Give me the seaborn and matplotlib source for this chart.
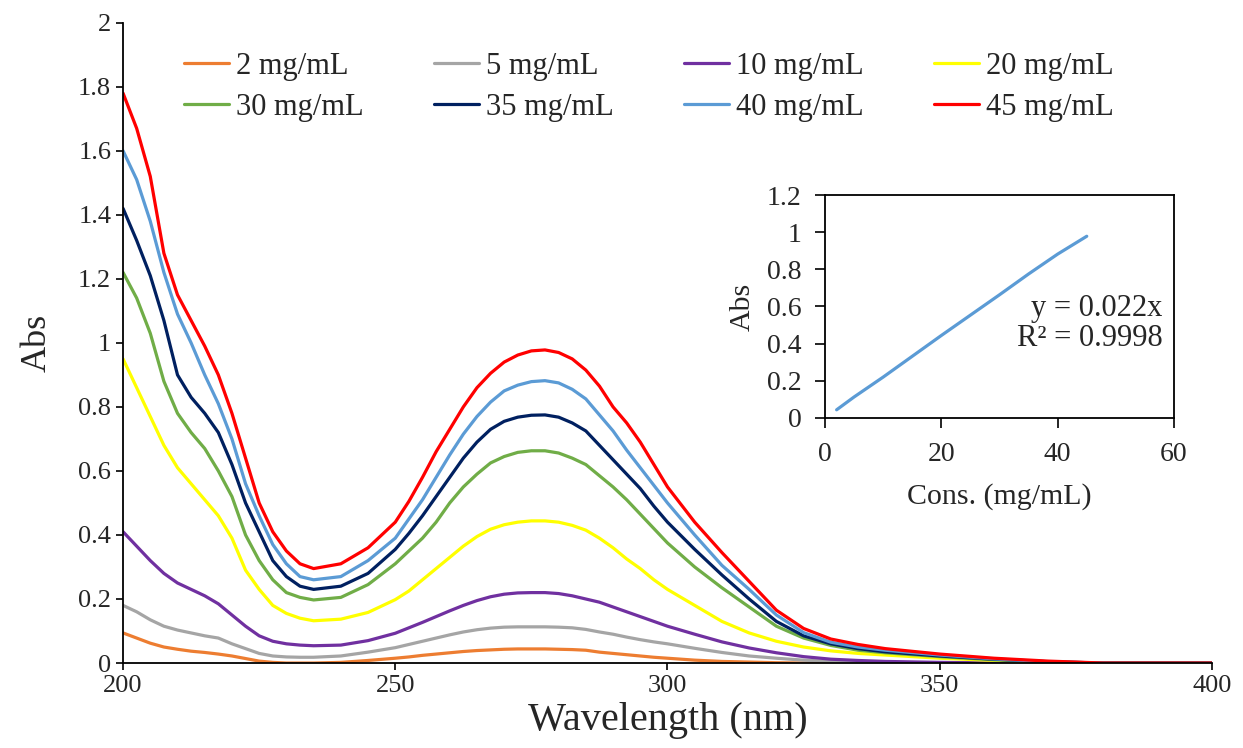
import numpy as np
import pandas as pd
import seaborn as sns
import matplotlib.pyplot as plt

# UV-vis spectra at different concentrations
wavelength = [200, 202.5, 205, 207.5, 210, 212.5, 215, 217.5, 220, 222.5, 225, 227.5,
              230, 232.5, 235, 240, 245,
              250, 252.5, 255, 257.5, 260, 262.5, 265, 267.5, 270, 272.5, 275, 277.5,
              280, 282.5, 285, 287.5, 290, 292.5, 295, 297.5, 300,
              305, 310, 315, 320, 325, 330, 335, 340, 350, 360, 370, 380, 390, 400]

abs_2 = [0.094, 0.078, 0.062, 0.050, 0.043, 0.037, 0.033, 0.028, 0.022, 0.014, 0.006, 0.002,
         0.0, 0.0, 0.0, 0.002, 0.008,
         0.015, 0.019, 0.024, 0.028, 0.032, 0.036, 0.039, 0.041, 0.043, 0.044, 0.044, 0.044,
         0.043, 0.042, 0.040, 0.034, 0.030, 0.026, 0.022, 0.018, 0.015,
         0.009, 0.005, 0.003, 0.001, 0.0, 0.0, 0.0, 0.0, 0.0, 0.0, 0.0, 0.0, 0.0, 0.0]
abs_5 = [0.180, 0.160, 0.135, 0.115, 0.103, 0.094, 0.085, 0.078, 0.060, 0.045, 0.030, 0.022,
         0.019, 0.018, 0.018, 0.022, 0.034,
         0.048, 0.058, 0.068, 0.078, 0.088, 0.097, 0.104, 0.109, 0.112, 0.113, 0.113, 0.113,
         0.112, 0.110, 0.105, 0.097, 0.090, 0.081, 0.073, 0.066, 0.060,
         0.046, 0.033, 0.022, 0.015, 0.009, 0.005, 0.003, 0.001, 0.0, 0.0, 0.0, 0.0, 0.0, 0.0]
abs_10 = [0.410, 0.365, 0.320, 0.280, 0.250, 0.230, 0.210, 0.185, 0.150, 0.115, 0.085, 0.068,
          0.060, 0.056, 0.054, 0.056, 0.070,
          0.093, 0.110, 0.127, 0.145, 0.163, 0.180, 0.195, 0.207, 0.215, 0.219, 0.220, 0.220,
          0.217, 0.210, 0.200, 0.190, 0.175, 0.160, 0.145, 0.130, 0.115,
          0.090, 0.066, 0.047, 0.032, 0.020, 0.012, 0.008, 0.005, 0.002, 0.0, 0.0, 0.0, 0.0, 0.0]
abs_20 = [0.950, 0.860, 0.770, 0.680, 0.610, 0.560, 0.510, 0.460, 0.390, 0.290, 0.230, 0.180,
          0.155, 0.140, 0.132, 0.137, 0.158,
          0.198, 0.225, 0.260, 0.295, 0.330, 0.365, 0.395, 0.418, 0.432, 0.440, 0.444, 0.444,
          0.440, 0.430, 0.415, 0.390, 0.360, 0.325, 0.295, 0.260, 0.230,
          0.180, 0.130, 0.094, 0.068, 0.050, 0.038, 0.030, 0.025, 0.015, 0.008, 0.002, 0.0, 0.0, 0.0]
abs_30 = [1.220, 1.140, 1.030, 0.880, 0.780, 0.720, 0.670, 0.600, 0.520, 0.400, 0.320, 0.260,
          0.220, 0.205, 0.197, 0.205, 0.245,
          0.310, 0.350, 0.390, 0.440, 0.500, 0.550, 0.590, 0.625, 0.645, 0.658, 0.663, 0.663,
          0.656, 0.640, 0.620, 0.585, 0.550, 0.510, 0.465, 0.420, 0.375,
          0.300, 0.235, 0.175, 0.115, 0.078, 0.055, 0.040, 0.032, 0.020, 0.010, 0.003, 0.0, 0.0, 0.0]
abs_35 = [1.420, 1.320, 1.210, 1.070, 0.900, 0.830, 0.780, 0.720, 0.620, 0.500, 0.410, 0.320,
          0.270, 0.240, 0.230, 0.240, 0.280,
          0.355, 0.405, 0.460, 0.520, 0.580, 0.640, 0.690, 0.730, 0.755, 0.768, 0.774, 0.775,
          0.768, 0.750, 0.725, 0.680, 0.635, 0.590, 0.545, 0.490, 0.440,
          0.355, 0.275, 0.200, 0.130, 0.085, 0.060, 0.045, 0.035, 0.022, 0.012, 0.004, 0.0, 0.0, 0.0]
abs_40 = [1.600, 1.510, 1.380, 1.220, 1.090, 1.000, 0.900, 0.810, 0.700, 0.560, 0.460, 0.370,
          0.310, 0.270, 0.260, 0.270, 0.320,
          0.390, 0.450, 0.510, 0.580, 0.650, 0.715, 0.770, 0.815, 0.850, 0.868, 0.879, 0.882,
          0.875, 0.855, 0.825, 0.775, 0.725, 0.665, 0.610, 0.555, 0.500,
          0.400, 0.305, 0.230, 0.150, 0.095, 0.065, 0.050, 0.040, 0.025, 0.013, 0.004, 0.0, 0.0, 0.0]
abs_45 = [1.780, 1.670, 1.520, 1.280, 1.150, 1.070, 0.990, 0.900, 0.780, 0.640, 0.500, 0.410,
          0.350, 0.310, 0.295, 0.310, 0.360,
          0.440, 0.505, 0.580, 0.660, 0.730, 0.800, 0.860, 0.905, 0.940, 0.962, 0.975, 0.978,
          0.970, 0.950, 0.915, 0.865, 0.800, 0.750, 0.690, 0.620, 0.550,
          0.440, 0.345, 0.255, 0.165, 0.108, 0.075, 0.058, 0.045, 0.028, 0.015, 0.006, 0.0, 0.0, 0.0]

labels = ['2 mg/mL', '5 mg/mL', '10 mg/mL', '20 mg/mL',
          '30 mg/mL', '35 mg/mL', '40 mg/mL', '45 mg/mL']
series = [abs_2, abs_5, abs_10, abs_20, abs_30, abs_35, abs_40, abs_45]
colors = ['#ED7D31', '#A5A5A5', '#7030A0', '#FFFF00',
          '#70AD47', '#002060', '#5B9BD5', '#FF0000']

# calibration (peak absorbance vs concentration)
conc = [2, 5, 10, 20, 30, 35, 40, 45]
peak_abs = [0.044, 0.113, 0.220, 0.444, 0.663, 0.775, 0.882, 0.978]

data = pd.concat([pd.DataFrame({'Wavelength': wavelength, 'Abs': s, 'Conc': lab})
                  for s, lab in zip(series, labels)], ignore_index=True)
calib = pd.DataFrame({'Cons': conc, 'Abs': peak_abs})

sns.set_style('ticks')
plt.rcParams['font.family'] = ['Liberation Serif', 'DejaVu Serif']

fig = plt.figure(figsize=(12.43, 7.48), dpi=100)
ax = fig.add_axes([0.099, 0.1136, 0.876, 0.856])

sns.lineplot(data=data, x='Wavelength', y='Abs', hue='Conc', hue_order=labels,
             palette=dict(zip(labels, colors)), linewidth=2.3, sort=False, ax=ax)

ax.set_xlim(200, 400)
ax.set_ylim(0, 2)
ax.set_xticks([200, 250, 300, 350, 400])
ax.set_yticks(np.arange(0, 2.01, 0.2))
ax.set_yticklabels([f'{v:g}' for v in np.arange(0, 2.01, 0.2).round(1)])
ax.tick_params(labelsize=19, length=5, width=1.2, color='black', direction='out')
ax.set_xlabel('Wavelength (nm)', fontsize=29, labelpad=4)
ax.set_ylabel('Abs', fontsize=26, labelpad=18)
sns.despine(ax=ax)
for sp in ax.spines.values():
    sp.set_linewidth(1.3)
    sp.set_color('black')

# legend laid out row by row like the original
handles, labs = ax.get_legend_handles_labels()
order = [0, 4, 1, 5, 2, 6, 3, 7]
ax.legend([handles[i] for i in order], [labs[i] for i in order], ncol=4,
          frameon=False, fontsize=22, handlelength=1.47, handletextpad=0.23,
          columnspacing=2.3, labelspacing=0.38,
          loc='upper left', bbox_to_anchor=(0.031, 0.997))

# inset calibration plot
ins = fig.add_axes([0.6637, 0.4412, 0.2808, 0.2981])
sns.lineplot(data=calib, x='Cons', y='Abs', color='#5B9BD5', linewidth=2.3, ax=ins)
ins.set_xlim(0, 60)
ins.set_ylim(0, 1.2)
ins.set_xticks([0, 20, 40, 60])
ins.set_yticks(np.arange(0, 1.21, 0.2))
ins.set_yticklabels([f'{v:g}' for v in np.arange(0, 1.21, 0.2).round(1)])
ins.tick_params(labelsize=20, length=7, pad=10, width=1.2, color='black', direction='out')
ins.set_xlabel('Cons. (mg/mL)', fontsize=21.5, labelpad=12)
ins.set_ylabel('Abs', fontsize=21.5, labelpad=8)
for sp in ins.spines.values():
    sp.set_linewidth(1.3)
    sp.set_color('black')
ins.text(58, 0.51, 'y = 0.022x\nR² = 0.9998', ha='right', va='center',
         fontsize=22, linespacing=1.05)

fig.savefig('out.png', dpi=100)
